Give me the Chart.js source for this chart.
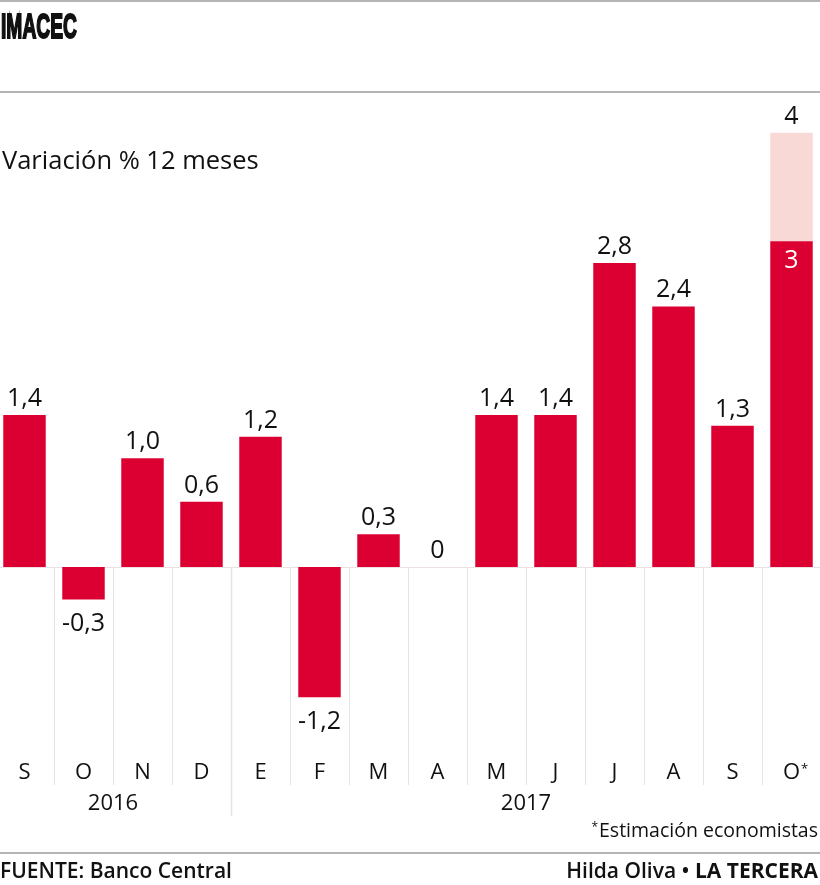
<!DOCTYPE html>
<html><head><meta charset="utf-8">
<script src="https://cdn.jsdelivr.net/npm/chart.js@4"></script>
<style>
html,body{margin:0;padding:0;background:#fff;width:820px;height:885px;overflow:hidden;position:relative;}
#c{position:absolute;left:-5px;top:0;}
</style></head>
<body>
<canvas id="c" width="826" height="885"></canvas>
<script>
// ---- data ----
const months = ["S","O","N","D","E","F","M","A","M","J","J","A","S","O"];
const estimated = [false,false,false,false,false,false,false,false,false,false,false,false,false,true];
const imacec = [1.4,-0.3,1.0,0.6,1.2,-1.2,0.3,0,1.4,1.4,2.8,2.4,1.3,3];
const estimateUpper = [null,null,null,null,null,null,null,null,null,null,null,null,null,4];
const valueLabels = ["1,4","-0,3","1,0","0,6","1,2","-1,2","0,3","0","1,4","1,4","2,8","2,4","1,3","3"];
const upperLabels = [null,null,null,null,null,null,null,null,null,null,null,null,null,"4"];
const yearLabels = ["2016","2017"];
const yearFirst = [0,4];
const yearLast = [3,13];

const RED = "#dc0032", PINK = "#f9d9d6";
const OFF = 5; // canvas shifted left by this
const FONT = '"Open Sans", "Noto Sans", sans-serif';

const extra = estimateUpper.map((u,i)=> u==null ? null : u - imacec[i]);

const deco = {
  id:'deco',
  beforeDatasetsDraw(chart){
    const ctx = chart.ctx, x = chart.scales.x, y = chart.scales.y, a = chart.chartArea;
    const y0 = y.getPixelForValue(0);
    ctx.save();
    for(let k=1;k<months.length;k++){
      const px = Math.round((x.getPixelForValue(k-1)+x.getPixelForValue(k))/2)+0.5;
      const isYear = yearFirst.includes(k);
      ctx.strokeStyle = "#e4e4e4"; ctx.lineWidth = isYear?1.5:1;
      ctx.beginPath(); ctx.moveTo(px,y0); ctx.lineTo(px,isYear?816:785); ctx.stroke();
    }
    ctx.strokeStyle = "#eddfe2"; ctx.lineWidth = 1;
    ctx.beginPath(); ctx.moveTo(a.left, Math.round(y0)+0.5); ctx.lineTo(a.right, Math.round(y0)+0.5); ctx.stroke();
    ctx.restore();
  },
  afterDraw(chart){
    const ctx = chart.ctx, x = chart.scales.x, y = chart.scales.y;
    ctx.save();
    ctx.textAlign = "center"; ctx.fillStyle = "#111";
    ctx.font = "25px " + FONT;
    imacec.forEach((v,i)=>{
      const cx = x.getPixelForValue(i);
      const py = y.getPixelForValue(v);
      if(upperLabels[i]){
        const pu = y.getPixelForValue(estimateUpper[i]);
        ctx.fillStyle = "#111"; ctx.fillText(upperLabels[i], cx, pu-9);
        ctx.fillStyle = "#fff"; ctx.fillText(valueLabels[i], cx, py+27);
        ctx.fillStyle = "#111";
        return;
      }
      if(v < 0) ctx.fillText(valueLabels[i], cx, py+32);
      else ctx.fillText(valueLabels[i], cx, py-9);
    });
    ctx.font = "22px " + FONT;
    months.forEach((m,i)=>{
      const cx = x.getPixelForValue(i);
      ctx.textAlign = "center";
      ctx.fillText(m, cx, 779);
      if(estimated[i]){
        const w = ctx.measureText(m).width;
        ctx.font = "13px " + FONT; ctx.textAlign = "left";
        ctx.fillText("*", cx + w/2 + 1, 773);
        ctx.font = "22px " + FONT;
      }
    });
    ctx.textAlign = "center"; ctx.font = "22px " + FONT;
    yearLabels.forEach((yl,j)=>{
      const cx = (x.getPixelForValue(yearFirst[j]) + x.getPixelForValue(yearLast[j]))/2;
      ctx.fillText(yl, cx, 810);
    });
    // static page texts (page coordinates)
    ctx.translate(OFF,0);
    ctx.fillStyle = "#b4b4b4";
    ctx.fillRect(0,0,820,2);
    ctx.fillRect(0,91,820,2);
    ctx.fillRect(0,852,820,2);
    ctx.fillStyle = "#111";
    // title
    ctx.save();
    ctx.translate(1,38); ctx.scale(0.55,1);
    ctx.font = 'bold 35px "Liberation Sans", sans-serif';
    ctx.textAlign = "left"; ctx.fillText("IMACEC",0,0);
    ctx.strokeStyle = "#111"; ctx.lineWidth = 2; ctx.strokeText("IMACEC",0,0);
    ctx.restore();
    // subtitle
    ctx.textAlign = "left"; ctx.font = "25.5px " + FONT;
    ctx.fillText("Variación % 12 meses", 2, 169);
    // footnote
    ctx.textAlign = "right"; ctx.font = "19.5px " + FONT;
    const fn = "Estimación economistas";
    ctx.fillText(fn, 818, 837);
    const fw = ctx.measureText(fn).width;
    ctx.font = "12px " + FONT; ctx.fillText("*", 818 - fw - 1, 831);
    // footer
    ctx.textAlign = "left"; ctx.font = "600 21px " + FONT;
    ctx.fillText("FUENTE: Banco Central", 0, 878);
    ctx.textAlign = "right"; ctx.font = "bold 21px " + FONT;
    const lt = "LA TERCERA";
    ctx.fillText(lt, 818, 878);
    const lw = ctx.measureText(lt).width;
    ctx.font = "600 21px " + FONT;
    ctx.fillText("Hilda Oliva \u2022 ", 818 - lw, 878);
    ctx.restore();
  }
};

new Chart(document.getElementById('c'), {
  type:'bar',
  data:{
    labels: months,
    datasets:[
      {data: imacec, backgroundColor: RED, borderWidth:0, categoryPercentage:1, barPercentage:0.72},
      {data: extra, backgroundColor: PINK, borderWidth:0, categoryPercentage:1, barPercentage:0.72}
    ]
  },
  options:{
    responsive:false, animation:false, devicePixelRatio:1,
    layout:{padding:{top:111,bottom:101,left:0,right:0}},
    plugins:{legend:{display:false}, tooltip:{enabled:false}, title:{display:false}},
    scales:{
      x:{display:false, stacked:true},
      y:{display:false, stacked:true, min:-2, max:4.2}
    }
  },
  plugins:[deco]
});
</script>
</body></html>
